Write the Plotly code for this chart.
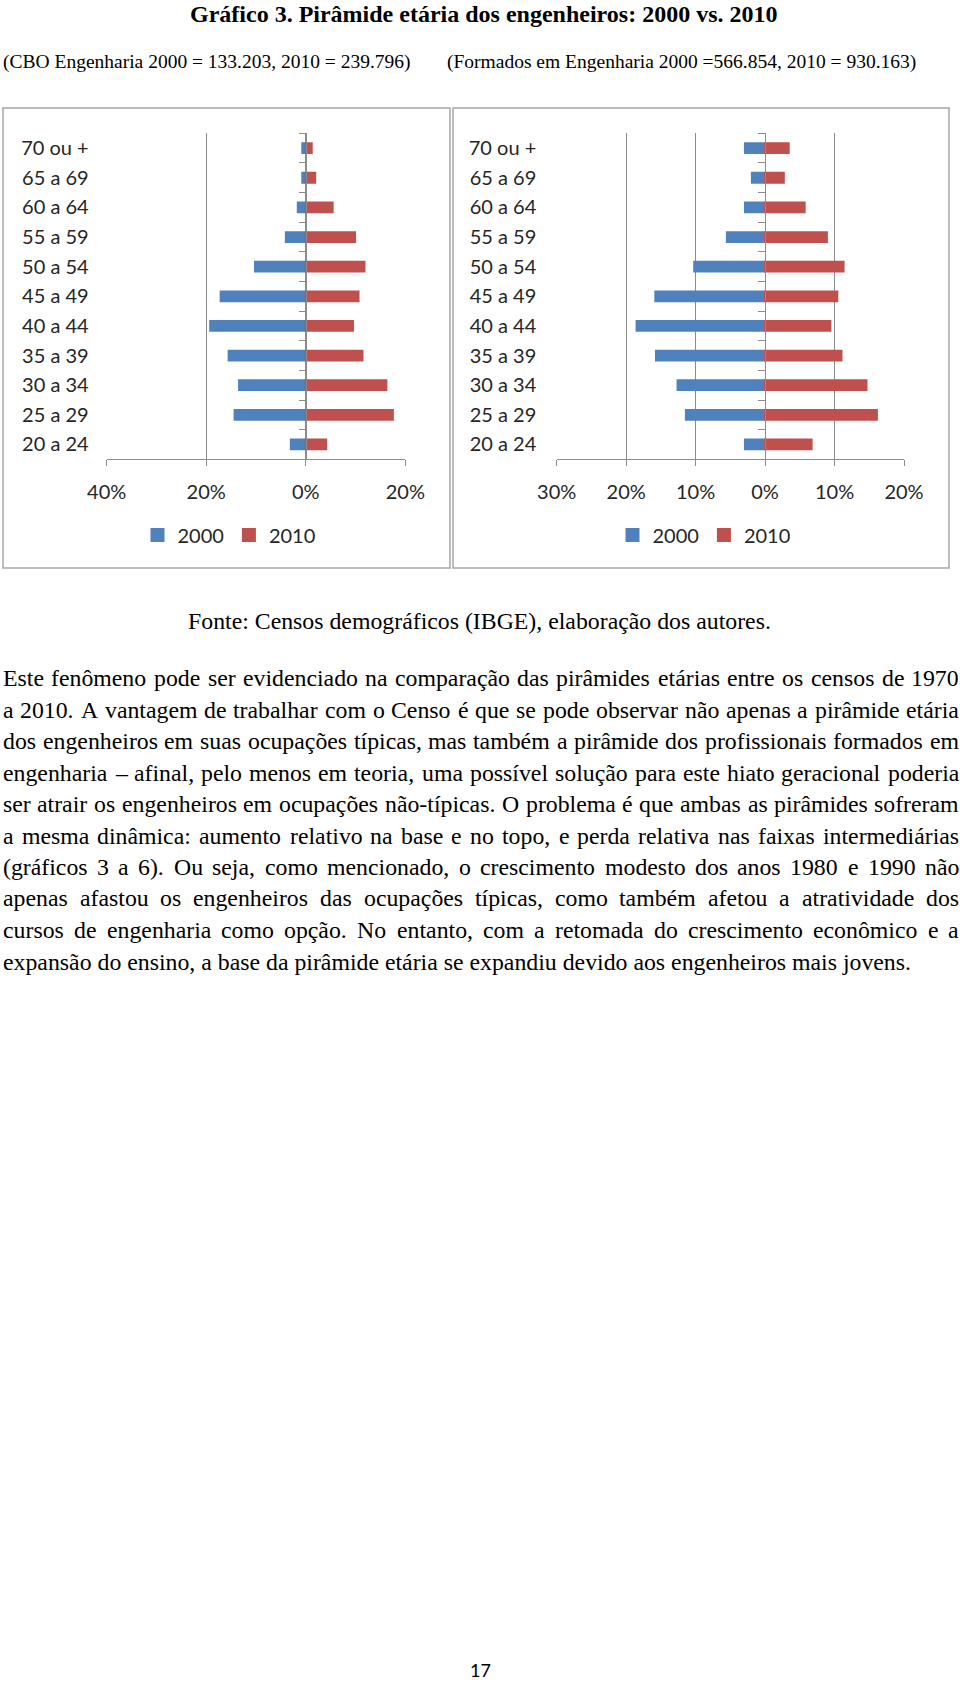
import plotly.graph_objects as go

# ---------------- data ----------------
categories = ['20 a 24', '25 a 29', '30 a 34', '35 a 39', '40 a 44', '45 a 49',
              '50 a 54', '55 a 59', '60 a 64', '65 a 69', '70 ou +']
# CBO Engenharia (ocupações típicas), % por faixa etária
cbo_2000 = [3.0, 14.3, 13.4, 15.5, 19.2, 17.1, 10.2, 4.0, 1.6, 0.7, 0.7]
cbo_2010 = [4.1, 17.5, 16.2, 11.4, 9.5, 10.6, 11.8, 9.9, 5.4, 1.9, 1.2]
# Formados em Engenharia, % por faixa etária
form_2000 = [2.9, 11.4, 12.6, 15.7, 18.5, 15.8, 10.2, 5.5, 2.9, 1.9, 2.9]
form_2010 = [6.7, 16.1, 14.6, 11.0, 9.4, 10.4, 11.3, 8.9, 5.7, 2.7, 3.4]

left_tickvals = [-40, -20, 0, 20]
left_ticktext = ['40%', '20%', '0%', '20%']
right_tickvals = [-30, -20, -10, 0, 10, 20]
right_ticktext = ['30%', '20%', '10%', '0%', '10%', '20%']

title_text = '<b>Gráfico 3. Pirâmide etária dos engenheiros: 2000 vs. 2010</b>'
sub_left = '(CBO Engenharia 2000 = 133.203, 2010 = 239.796)'
sub_right = '(Formados em Engenharia 2000 =566.854, 2010 = 930.163)'
source_text = 'Fonte: Censos demográficos (IBGE), elaboração dos autores.'
paragraph = [
    'Este fenômeno pode ser evidenciado na comparação das pirâmides etárias entre os censos de 1970',
    'a 2010. A vantagem de trabalhar com o Censo é que se pode observar não apenas a pirâmide etária',
    'dos engenheiros em suas ocupações típicas, mas também a pirâmide dos profissionais formados em',
    'engenharia – afinal, pelo menos em teoria, uma possível solução para este hiato geracional poderia',
    'ser atrair os engenheiros em ocupações não-típicas. O problema é que ambas as pirâmides sofreram',
    'a mesma dinâmica: aumento relativo na base e no topo, e perda relativa nas faixas intermediárias',
    '(gráficos 3 a 6). Ou seja, como mencionado, o crescimento modesto dos anos 1980 e 1990 não',
    'apenas afastou os engenheiros das ocupações típicas, como também afetou a atratividade dos',
    'cursos de engenharia como opção. No entanto, com a retomada do crescimento econômico e a',
    'expansão do ensino, a base da pirâmide etária se expandiu devido aos engenheiros mais jovens.',
]
page_number = '17'

# ---------------- layout helpers ----------------
W, H = 960, 1682
def px(x):
    return x / W
def py(y):
    return 1 - y / H

BLUE = '#4f81bd'
RED = '#c0504d'
GRID = '#8c8c8c'
LBL = '#262626'
SANS = 'Lato, Calibri, sans-serif'
SERIF = 'Liberation Serif, Times New Roman, serif'

# Times/Liberation Serif advance widths (1/1000 em) used to justify paragraph lines
_TW = {' ': 250, '(': 333, ')': 333, ',': 250, '-': 333, '.': 250, ':': 278, '–': 500,
       'A': 722, 'C': 667, 'E': 611, 'N': 722, 'O': 722,
       'a': 444, 'b': 500, 'c': 444, 'd': 500, 'e': 444, 'f': 333, 'g': 500, 'h': 500,
       'i': 278, 'j': 278, 'k': 500, 'l': 278, 'm': 778, 'n': 500, 'o': 500, 'p': 500,
       'q': 500, 'r': 333, 's': 389, 't': 278, 'u': 500, 'v': 500, 'w': 722, 'x': 500,
       'y': 500, 'z': 444}
_ACC = {'á': 'a', 'à': 'a', 'â': 'a', 'ã': 'a', 'é': 'e', 'ê': 'e', 'í': 'i', 'ó': 'o',
        'ô': 'o', 'õ': 'o', 'ú': 'u', 'ç': 'c'}
def word_w(w, size):
    tot = 0
    for ch in w:
        ch = _ACC.get(ch, ch)
        tot += 500 if ch.isdigit() else _TW.get(ch, 500)
    return tot * size / 1000.0

def bar(xvals, name, color, xa, ya, lg):
    return go.Bar(y=categories, x=xvals, orientation='h', name=name,
                  marker=dict(color=color, line=dict(width=2, color=color)),
                  xaxis=xa, yaxis=ya, legend=lg)

fig = go.Figure()
fig.add_trace(bar([-v for v in cbo_2000], '2000', BLUE, 'x', 'y', 'legend'))
fig.add_trace(bar(cbo_2010, '2010', RED, 'x', 'y', 'legend'))
fig.add_trace(bar([-v for v in form_2000], '2000', BLUE, 'x2', 'y2', 'legend2'))
fig.add_trace(bar(form_2010, '2010', RED, 'x2', 'y2', 'legend2'))

ydom = [py(459.3), py(133.3)]

def xax(dom, rng, tv, tt, anchor):
    return dict(domain=dom, range=rng, anchor=anchor, tickmode='array', tickvals=tv, ticktext=tt,
                showgrid=True, gridcolor=GRID, gridwidth=1, zeroline=False, automargin=False,
                showline=True, linecolor=GRID, linewidth=1, ticks='outside', ticklen=6,
                tickcolor=GRID, tickfont=dict(family=SANS, size=20, color=LBL),
                ticklabelstandoff=9, fixedrange=True)

def yax(pos, standoff):
    return dict(domain=ydom, type='category', categoryorder='array', categoryarray=categories,
                range=[-0.5, len(categories) - 0.5], anchor='free', position=pos, automargin=False,
                showline=True, linecolor=GRID, linewidth=1, ticks='outside', tickson='boundaries',
                ticklen=7, tickcolor=GRID, showgrid=False, zeroline=False,
                tickfont=dict(family=SANS, size=20, color=LBL), ticklabelstandoff=standoff,
                fixedrange=True)

shapes = [
    dict(type='rect', xref='paper', yref='paper', x0=px(3), x1=px(450), y0=py(568), y1=py(108),
         line=dict(color='#a6a6a6', width=1.5), fillcolor='rgba(0,0,0,0)', layer='below'),
    dict(type='rect', xref='paper', yref='paper', x0=px(453), x1=px(949), y0=py(568), y1=py(108),
         line=dict(color='#a6a6a6', width=1.5), fillcolor='rgba(0,0,0,0)', layer='below'),
]

def ann(text, x, y, xanchor, size, family=SERIF):
    return dict(text=text, x=px(x), y=py(y), xref='paper', yref='paper', xanchor=xanchor,
                yanchor='middle', showarrow=False, borderpad=0,
                font=dict(family=family, size=size, color='black'))

annotations = [
    ann(title_text, 483, 14, 'center', 24),
    ann(sub_left, 2, 62, 'left', 19.5),
    ann(sub_right, 446, 62, 'left', 19.5),
    ann(source_text, 479, 621, 'center', 23.8),
    ann(page_number, 480, 1670, 'center', 18, SANS),
]

BODY = 23.8
LEFT, RIGHT = 2, 958
for i, line in enumerate(paragraph):
    yline = 678 + i * 31.5
    if i == len(paragraph) - 1:
        annotations.append(ann(line, LEFT, yline, 'left', BODY))
        continue
    words = line.split(' ')
    widths = [word_w(w, BODY) for w in words]
    gap = (RIGHT - LEFT - sum(widths)) / (len(words) - 1)
    xw = LEFT
    for w, ww in zip(words, widths):
        annotations.append(ann(w, xw, yline, 'left', BODY))
        xw += ww + gap

def leg(xc):
    return dict(orientation='h', x=px(xc), xanchor='center', y=py(535), yanchor='middle',
                font=dict(family=SANS, size=20, color=LBL), bgcolor='rgba(0,0,0,0)',
                itemwidth=30, tracegroupgap=0, itemclick=False, itemdoubleclick=False)

fig.update_layout(
    width=W, height=H, autosize=False,
    margin=dict(l=0, r=0, t=0, b=0, pad=0, autoexpand=False),
    paper_bgcolor='white', plot_bgcolor='white',
    barmode='overlay', bargap=0.67,
    showlegend=True,
    xaxis=xax([px(106.7), px(405.3)], [-40, 20], left_tickvals, left_ticktext, 'y'),
    yaxis=yax(px(305.7), 213),
    xaxis2=xax([px(556.7), px(904)], [-30, 20], right_tickvals, right_ticktext, 'y2'),
    yaxis2=yax(px(765.3), 225),
    legend=leg(229),
    legend2=leg(704),
    shapes=shapes,
    annotations=annotations,
)

fig.write_html('out.html')
